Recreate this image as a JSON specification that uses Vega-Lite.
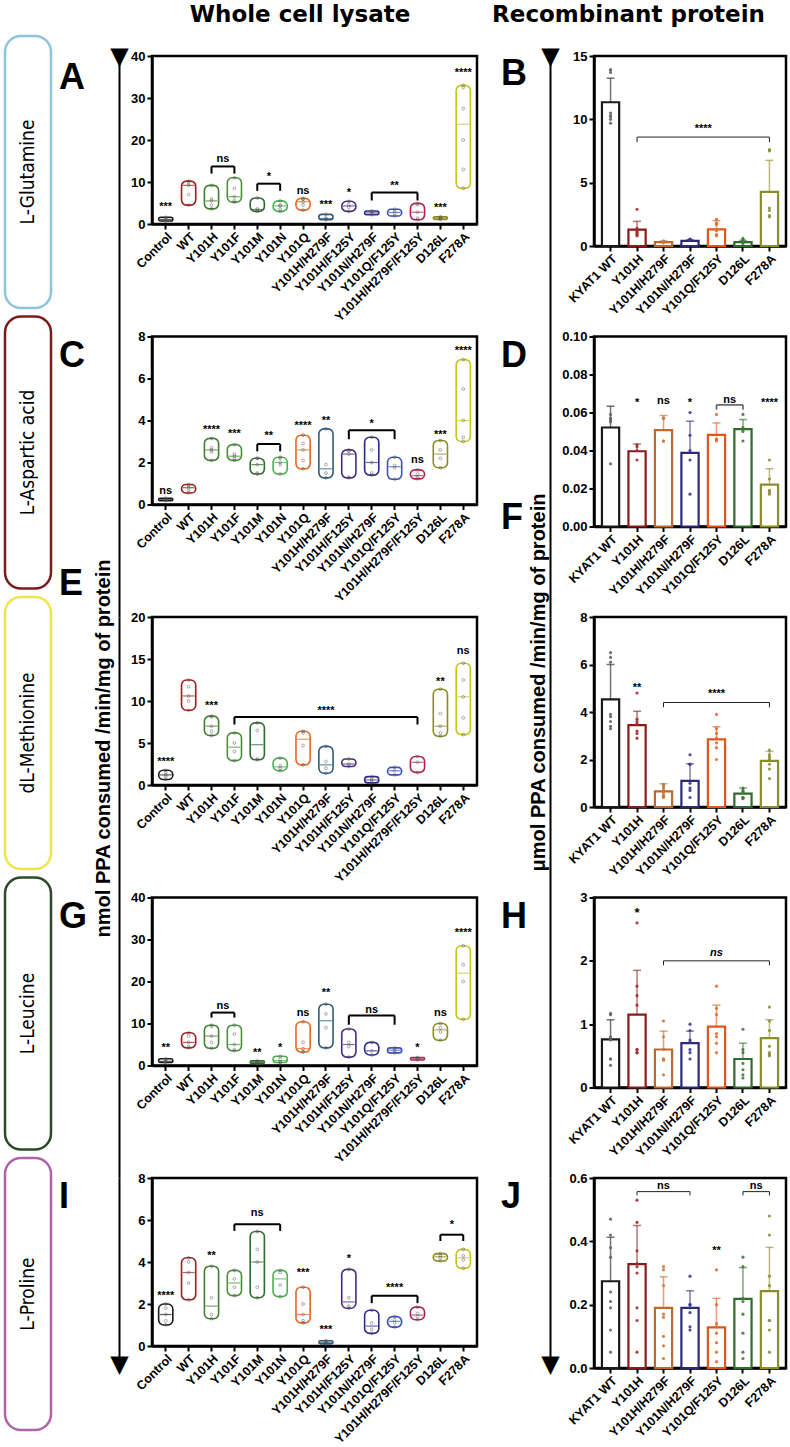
{
"$schema":"https://vega.github.io/schema/vega-lite/v6.json",
"padding":{"left":3,"top":1,"right":2,"bottom":2},
"config":{"font":"Liberation Sans","view":{"stroke":null},
"axis":{"domainColor":"black","domainWidth":2.5,"tickColor":"black","tickWidth":2,"tickSize":5,"labelColor":"black","labelFontWeight":"bold","grid":false,"titleColor":"black"},
"axisX":{"labelAngle":-45,"labelFontSize":12.5,"labelPadding":1},
"axisY":{"labelFontSize":13,"labelPadding":2,"labelOverlap":false},
"axisQuantitative":{"labelOverlap":false},
"title":{"color":"black","fontWeight":"bold"},
"text":{"color":"black"}},
"datasets":{
"a":[{"c":"Control","v":0.7},{"c":"Control","v":1.0},{"c":"Control","v":1.2},{"c":"Control","v":1.6},
{"c":"WT","v":4.5},{"c":"WT","v":7.0},{"c":"WT","v":9.2},{"c":"WT","v":9.8},{"c":"WT","v":10.2},
{"c":"Y101H","v":3.6},{"c":"Y101H","v":4.5},{"c":"Y101H","v":5.5},{"c":"Y101H","v":6.0},{"c":"Y101H","v":9.2},
{"c":"Y101F","v":5.2},{"c":"Y101F","v":5.6},{"c":"Y101F","v":6.5},{"c":"Y101F","v":8.5},{"c":"Y101F","v":11.0},
{"c":"Y101M","v":3.0},{"c":"Y101M","v":3.3},{"c":"Y101M","v":3.6},{"c":"Y101M","v":6.2},
{"c":"Y101N","v":3.0},{"c":"Y101N","v":3.5},{"c":"Y101N","v":4.3},{"c":"Y101N","v":4.5},{"c":"Y101N","v":5.5},
{"c":"Y101Q","v":3.3},{"c":"Y101Q","v":4.5},{"c":"Y101Q","v":5.3},{"c":"Y101Q","v":5.9},{"c":"Y101Q","v":6.1},
{"c":"Y101H/H279F","v":1.0},{"c":"Y101H/H279F","v":1.2},{"c":"Y101H/H279F","v":1.4},{"c":"Y101H/H279F","v":2.3},
{"c":"Y101H/F125Y","v":3.0},{"c":"Y101H/F125Y","v":4.0},{"c":"Y101H/F125Y","v":4.6},{"c":"Y101H/F125Y","v":5.4},
{"c":"Y101N/H279F","v":2.2},{"c":"Y101N/H279F","v":2.5},{"c":"Y101N/H279F","v":2.8},{"c":"Y101N/H279F","v":3.1},
{"c":"Y101Q/F125Y","v":1.9},{"c":"Y101Q/F125Y","v":2.5},{"c":"Y101Q/F125Y","v":3.0},{"c":"Y101Q/F125Y","v":3.5},
{"c":"Y101H/H279F/F125Y","v":1.0},{"c":"Y101H/H279F/F125Y","v":1.4},{"c":"Y101H/H279F/F125Y","v":2.8},{"c":"Y101H/H279F/F125Y","v":4.6},{"c":"Y101H/H279F/F125Y","v":4.9},
{"c":"D126L","v":1.1},{"c":"D126L","v":1.3},{"c":"D126L","v":1.5},{"c":"D126L","v":1.7},
{"c":"F278A","v":8.5},{"c":"F278A","v":13.0},{"c":"F278A","v":20.0},{"c":"F278A","v":27.5},{"c":"F278A","v":32.5},{"c":"F278A","v":33.0}],
"as":[{"c":"Control","y":4.1,"t":"***"},{"c":"Y101Q","y":7.9,"t":"ns"},{"c":"Y101H/H279F","y":4.5,"t":"***"},{"c":"Y101H/F125Y","y":7.3,"t":"*"},{"c":"D126L","y":3.9,"t":"***"},{"c":"F278A","y":36,"t":"****"}],
"ab":[{"c1":"Y101H","c2":"Y101F","y":13.7,"y2":12.0,"t":"ns","ty":15.5,"c":"Y101H","h":1},{"c1":"Y101M","c2":"Y101N","y":9.6,"y2":7.9,"t":"*","ty":11.3,"c":"Y101M","h":1},{"c1":"Y101N/H279F","c2":"Y101H/H279F/F125Y","y":7.5,"y2":5.6,"t":"**","ty":9.1,"c":"Y101Q/F125Y","h":0}],
"c":[{"c":"Control","v":0.18},{"c":"Control","v":0.22},{"c":"Control","v":0.27},{"c":"Control","v":0.3},
{"c":"WT","v":0.55},{"c":"WT","v":0.65},{"c":"WT","v":0.8},{"c":"WT","v":0.9},{"c":"WT","v":0.95},
{"c":"Y101H","v":2.1},{"c":"Y101H","v":2.5},{"c":"Y101H","v":2.6},{"c":"Y101H","v":2.7},{"c":"Y101H","v":3.15},
{"c":"Y101F","v":2.1},{"c":"Y101F","v":2.2},{"c":"Y101F","v":2.3},{"c":"Y101F","v":2.4},{"c":"Y101F","v":2.85},
{"c":"Y101M","v":1.45},{"c":"Y101M","v":1.5},{"c":"Y101M","v":1.9},{"c":"Y101M","v":2.2},{"c":"Y101M","v":2.2},
{"c":"Y101N","v":1.45},{"c":"Y101N","v":1.9},{"c":"Y101N","v":2.0},{"c":"Y101N","v":2.2},{"c":"Y101N","v":2.25},
{"c":"Y101Q","v":1.7},{"c":"Y101Q","v":2.1},{"c":"Y101Q","v":2.6},{"c":"Y101Q","v":2.9},{"c":"Y101Q","v":3.3},
{"c":"Y101H/H279F","v":1.27},{"c":"Y101H/H279F","v":1.5},{"c":"Y101H/H279F","v":1.9},{"c":"Y101H/H279F","v":3.6},
{"c":"Y101H/F125Y","v":1.27},{"c":"Y101H/F125Y","v":1.3},{"c":"Y101H/F125Y","v":2.4},{"c":"Y101H/F125Y","v":2.55},{"c":"Y101H/F125Y","v":2.6},
{"c":"Y101N/H279F","v":1.4},{"c":"Y101N/H279F","v":1.5},{"c":"Y101N/H279F","v":2.0},{"c":"Y101N/H279F","v":2.6},{"c":"Y101N/H279F","v":3.2},
{"c":"Y101Q/F125Y","v":1.2},{"c":"Y101Q/F125Y","v":1.75},{"c":"Y101Q/F125Y","v":1.85},{"c":"Y101Q/F125Y","v":2.25},
{"c":"Y101H/H279F/F125Y","v":1.22},{"c":"Y101H/H279F/F125Y","v":1.3},{"c":"Y101H/H279F/F125Y","v":1.45},{"c":"Y101H/H279F/F125Y","v":1.65},
{"c":"D126L","v":1.75},{"c":"D126L","v":2.2},{"c":"D126L","v":2.6},{"c":"D126L","v":3.05},
{"c":"F278A","v":3.0},{"c":"F278A","v":3.2},{"c":"F278A","v":4.0},{"c":"F278A","v":5.5},{"c":"F278A","v":6.9}],
"cs":[{"c":"Control","y":0.66,"t":"ns"},{"c":"Y101H","y":3.54,"t":"****"},{"c":"Y101F","y":3.35,"t":"***"},{"c":"Y101Q","y":3.73,"t":"****"},{"c":"Y101H/H279F","y":3.98,"t":"**"},{"c":"Y101H/H279F/F125Y","y":2.12,"t":"ns"},{"c":"D126L","y":3.32,"t":"***"},{"c":"F278A","y":7.3,"t":"****"}],
"cb":[{"c1":"Y101M","c2":"Y101N","y":2.88,"y2":2.53,"t":"**","ty":3.25,"c":"Y101M","h":1},{"c1":"Y101H/F125Y","c2":"Y101Q/F125Y","y":3.54,"y2":3.11,"t":"*","ty":3.82,"c":"Y101N/H279F","h":0}],
"e":[{"c":"Control","v":0.65},{"c":"Control","v":1.0},{"c":"Control","v":1.2},{"c":"Control","v":1.5},{"c":"Control","v":1.75},
{"c":"WT","v":8.9},{"c":"WT","v":10.0},{"c":"WT","v":10.6},{"c":"WT","v":11.7},{"c":"WT","v":12.5},
{"c":"Y101H","v":5.9},{"c":"Y101H","v":6.4},{"c":"Y101H","v":7.0},{"c":"Y101H","v":8.1},{"c":"Y101H","v":8.2},
{"c":"Y101F","v":2.9},{"c":"Y101F","v":4.0},{"c":"Y101F","v":5.0},{"c":"Y101F","v":6.2},
{"c":"Y101M","v":3.0},{"c":"Y101M","v":3.1},{"c":"Y101M","v":6.5},{"c":"Y101M","v":7.4},
{"c":"Y101N","v":1.7},{"c":"Y101N","v":2.0},{"c":"Y101N","v":2.3},{"c":"Y101N","v":3.2},
{"c":"Y101Q","v":2.4},{"c":"Y101Q","v":4.7},{"c":"Y101Q","v":6.2},{"c":"Y101Q","v":6.4},
{"c":"Y101H/H279F","v":1.4},{"c":"Y101H/H279F","v":2.0},{"c":"Y101H/H279F","v":2.8},{"c":"Y101H/H279F","v":4.6},
{"c":"Y101H/F125Y","v":2.2},{"c":"Y101H/F125Y","v":2.5},{"c":"Y101H/F125Y","v":3.1},
{"c":"Y101N/H279F","v":0.25},{"c":"Y101N/H279F","v":0.5},{"c":"Y101N/H279F","v":0.7},{"c":"Y101N/H279F","v":1.0},
{"c":"Y101Q/F125Y","v":1.2},{"c":"Y101Q/F125Y","v":1.7},{"c":"Y101Q/F125Y","v":2.1},
{"c":"Y101H/H279F/F125Y","v":1.5},{"c":"Y101H/H279F/F125Y","v":2.7},{"c":"Y101H/H279F/F125Y","v":3.4},
{"c":"D126L","v":5.8},{"c":"D126L","v":6.2},{"c":"D126L","v":7.0},{"c":"D126L","v":8.5},{"c":"D126L","v":11.4},
{"c":"F278A","v":6.0},{"c":"F278A","v":8.0},{"c":"F278A","v":10.5},{"c":"F278A","v":12.5},{"c":"F278A","v":14.5}],
"es":[{"c":"Control","y":2.7,"t":"****"},{"c":"Y101H","y":9.4,"t":"***"},{"c":"D126L","y":12.3,"t":"**"},{"c":"F278A","y":16.0,"t":"ns"}],
"eb":[{"c1":"Y101F","c2":"Y101H/H279F/F125Y","y":8.1,"y2":7.2,"t":"****","ty":8.8,"c":"Y101H/H279F","h":0}],
"g":[{"c":"Control","v":0.7},{"c":"Control","v":0.9},{"c":"Control","v":1.0},{"c":"Control","v":1.2},{"c":"Control","v":1.6},
{"c":"WT","v":4.2},{"c":"WT","v":4.5},{"c":"WT","v":5.5},{"c":"WT","v":7.0},{"c":"WT","v":7.8},
{"c":"Y101H","v":4.1},{"c":"Y101H","v":5.5},{"c":"Y101H","v":7.0},{"c":"Y101H","v":9.3},{"c":"Y101H","v":9.6},
{"c":"Y101F","v":3.5},{"c":"Y101F","v":3.8},{"c":"Y101F","v":5.0},{"c":"Y101F","v":7.5},{"c":"Y101F","v":9.6},
{"c":"Y101M","v":0.5},{"c":"Y101M","v":0.6},{"c":"Y101M","v":0.8},{"c":"Y101M","v":1.1},
{"c":"Y101N","v":0.7},{"c":"Y101N","v":0.8},{"c":"Y101N","v":1.5},{"c":"Y101N","v":2.2},
{"c":"Y101Q","v":3.2},{"c":"Y101Q","v":3.3},{"c":"Y101Q","v":4.0},{"c":"Y101Q","v":5.5},{"c":"Y101Q","v":10.4},
{"c":"Y101H/H279F","v":4.2},{"c":"Y101H/H279F","v":9.0},{"c":"Y101H/H279F","v":12.3},{"c":"Y101H/H279F","v":14.6},
{"c":"Y101H/F125Y","v":2.0},{"c":"Y101H/F125Y","v":4.5},{"c":"Y101H/F125Y","v":5.5},{"c":"Y101H/F125Y","v":8.7},
{"c":"Y101N/H279F","v":2.5},{"c":"Y101N/H279F","v":3.5},{"c":"Y101N/H279F","v":5.5},
{"c":"Y101Q/F125Y","v":3.0},{"c":"Y101Q/F125Y","v":3.5},{"c":"Y101Q/F125Y","v":3.8},{"c":"Y101Q/F125Y","v":4.2},
{"c":"Y101H/H279F/F125Y","v":1.3},{"c":"Y101H/H279F/F125Y","v":1.5},{"c":"Y101H/H279F/F125Y","v":1.7},{"c":"Y101H/H279F/F125Y","v":1.9},
{"c":"D126L","v":6.0},{"c":"D126L","v":8.0},{"c":"D126L","v":9.0},{"c":"D126L","v":10.0},
{"c":"F278A","v":11.0},{"c":"F278A","v":20.0},{"c":"F278A","v":24.0},{"c":"F278A","v":28.5}],
"gs":[{"c":"Control","y":4.1,"t":"**"},{"c":"Y101M","y":2.9,"t":"**"},{"c":"Y101N","y":4.1,"t":"*"},{"c":"Y101Q","y":12.5,"t":"ns"},{"c":"Y101H/H279F","y":17.2,"t":"**"},{"c":"Y101H/H279F/F125Y","y":4.1,"t":"*"},{"c":"D126L","y":12.6,"t":"ns"},{"c":"F278A","y":31.5,"t":"****"}],
"gb":[{"c1":"Y101H","c2":"Y101F","y":12.6,"y2":11.4,"t":"ns","ty":14.2,"c":"Y101H","h":1},{"c1":"Y101H/F125Y","c2":"Y101Q/F125Y","y":11.9,"y2":9.7,"t":"ns","ty":13.3,"c":"Y101N/H279F","h":0}],
"i":[{"c":"Control","v":1.0},{"c":"Control","v":1.2},{"c":"Control","v":1.5},{"c":"Control","v":1.8},{"c":"Control","v":2.0},
{"c":"WT","v":2.2},{"c":"WT","v":3.0},{"c":"WT","v":3.5},{"c":"WT","v":4.0},{"c":"WT","v":4.2},
{"c":"Y101H","v":1.3},{"c":"Y101H","v":1.5},{"c":"Y101H","v":2.3},{"c":"Y101H","v":3.8},
{"c":"Y101F","v":2.4},{"c":"Y101F","v":2.8},{"c":"Y101F","v":3.2},{"c":"Y101F","v":3.6},
{"c":"Y101M","v":2.3},{"c":"Y101M","v":2.8},{"c":"Y101M","v":4.0},{"c":"Y101M","v":4.6},{"c":"Y101M","v":5.45},
{"c":"Y101N","v":2.35},{"c":"Y101N","v":2.9},{"c":"Y101N","v":3.5},{"c":"Y101N","v":3.6},
{"c":"Y101Q","v":1.1},{"c":"Y101Q","v":1.2},{"c":"Y101Q","v":1.5},{"c":"Y101Q","v":2.0},{"c":"Y101Q","v":2.8},
{"c":"Y101H/H279F","v":0.1},{"c":"Y101H/H279F","v":0.15},{"c":"Y101H/H279F","v":0.2},{"c":"Y101H/H279F","v":0.25},
{"c":"Y101H/F125Y","v":1.8},{"c":"Y101H/F125Y","v":1.9},{"c":"Y101H/F125Y","v":2.3},{"c":"Y101H/F125Y","v":3.65},
{"c":"Y101N/H279F","v":0.6},{"c":"Y101N/H279F","v":0.8},{"c":"Y101N/H279F","v":1.1},{"c":"Y101N/H279F","v":1.7},
{"c":"Y101Q/F125Y","v":0.9},{"c":"Y101Q/F125Y","v":1.1},{"c":"Y101Q/F125Y","v":1.25},{"c":"Y101Q/F125Y","v":1.4},
{"c":"Y101H/H279F/F125Y","v":1.25},{"c":"Y101H/H279F/F125Y","v":1.4},{"c":"Y101H/H279F/F125Y","v":1.55},{"c":"Y101H/H279F/F125Y","v":1.85},
{"c":"D126L","v":4.05},{"c":"D126L","v":4.2},{"c":"D126L","v":4.3},{"c":"D126L","v":4.4},
{"c":"F278A","v":3.7},{"c":"F278A","v":4.1},{"c":"F278A","v":4.3},{"c":"F278A","v":4.6}],
"is":[{"c":"Control","y":2.4,"t":"****"},{"c":"Y101H","y":4.3,"t":"**"},{"c":"Y101Q","y":3.46,"t":"***"},{"c":"Y101H/H279F","y":0.77,"t":"***"},{"c":"Y101H/F125Y","y":4.14,"t":"*"}],
"ib":[{"c1":"Y101F","c2":"Y101N","y":5.8,"y2":5.48,"t":"ns","ty":6.35,"c":"Y101M","h":0},{"c1":"Y101N/H279F","c2":"Y101H/H279F/F125Y","y":2.39,"y2":2.04,"t":"****","ty":2.75,"c":"Y101Q/F125Y","h":0},{"c1":"D126L","c2":"F278A","y":5.3,"y2":5.0,"t":"*","ty":5.75,"c":"D126L","h":1}],
"b":[{"c":"KYAT1 WT","v":13.9},{"c":"KYAT1 WT","v":13.7},{"c":"KYAT1 WT","v":13.9},{"c":"KYAT1 WT","v":10.5},{"c":"KYAT1 WT","v":10.3},{"c":"KYAT1 WT","v":10.2},{"c":"KYAT1 WT","v":10.0},{"c":"KYAT1 WT","v":9.7},
{"c":"Y101H","v":2.9},{"c":"Y101H","v":1.4},{"c":"Y101H","v":1.2},{"c":"Y101H","v":1.0},{"c":"Y101H","v":0.9},{"c":"Y101H","v":0.8},{"c":"Y101H","v":1.1},
{"c":"Y101H/H279F","v":0.4},{"c":"Y101H/H279F","v":0.35},{"c":"Y101H/H279F","v":0.3},{"c":"Y101H/H279F","v":0.25},{"c":"Y101H/H279F","v":0.3},{"c":"Y101H/H279F","v":0.35},
{"c":"Y101N/H279F","v":0.55},{"c":"Y101N/H279F","v":0.5},{"c":"Y101N/H279F","v":0.5},{"c":"Y101N/H279F","v":0.45},{"c":"Y101N/H279F","v":0.5},
{"c":"Y101Q/F125Y","v":2.1},{"c":"Y101Q/F125Y","v":1.8},{"c":"Y101Q/F125Y","v":1.7},{"c":"Y101Q/F125Y","v":1.3},{"c":"Y101Q/F125Y","v":1.2},{"c":"Y101Q/F125Y","v":0.9},{"c":"Y101Q/F125Y","v":0.8},
{"c":"D126L","v":0.6},{"c":"D126L","v":0.5},{"c":"D126L","v":0.4},{"c":"D126L","v":0.3},{"c":"D126L","v":0.2},
{"c":"F278A","v":7.6},{"c":"F278A","v":7.5},{"c":"F278A","v":7.6},{"c":"F278A","v":3.0},{"c":"F278A","v":2.8},{"c":"F278A","v":2.4},{"c":"F278A","v":2.3}],
"bm":[{"c":"KYAT1 WT","m":11.35,"hi":13.25},{"c":"Y101H","m":1.3,"hi":1.95},{"c":"Y101H/H279F","m":0.3,"hi":0.4},{"c":"Y101N/H279F","m":0.4,"hi":0.5},{"c":"Y101Q/F125Y","m":1.32,"hi":2.0},{"c":"D126L","m":0.3,"hi":0.45},{"c":"F278A","m":4.27,"hi":6.76}],
"bb":[{"c1":"Y101H","c2":"F278A","y":8.6,"y2":8.2,"t":"****","ty":9.2,"c":"Y101N/H279F","h":1}],
"d":[{"c":"KYAT1 WT","v":0.059},{"c":"KYAT1 WT","v":0.057},{"c":"KYAT1 WT","v":0.056},{"c":"KYAT1 WT","v":0.055},{"c":"KYAT1 WT","v":0.033},
{"c":"Y101H","v":0.043},{"c":"Y101H","v":0.042},{"c":"Y101H","v":0.04},{"c":"Y101H","v":0.035},
{"c":"Y101H/H279F","v":0.057},{"c":"Y101H/H279F","v":0.057},{"c":"Y101H/H279F","v":0.045},{"c":"Y101H/H279F","v":0.045},
{"c":"Y101N/H279F","v":0.06},{"c":"Y101N/H279F","v":0.048},{"c":"Y101N/H279F","v":0.04},{"c":"Y101N/H279F","v":0.035},{"c":"Y101N/H279F","v":0.017},
{"c":"Y101Q/F125Y","v":0.059},{"c":"Y101Q/F125Y","v":0.046},{"c":"Y101Q/F125Y","v":0.046},{"c":"Y101Q/F125Y","v":0.045},
{"c":"D126L","v":0.059},{"c":"D126L","v":0.052},{"c":"D126L","v":0.051},{"c":"D126L","v":0.05},{"c":"D126L","v":0.045},
{"c":"F278A","v":0.035},{"c":"F278A","v":0.025},{"c":"F278A","v":0.019},{"c":"F278A","v":0.018},{"c":"F278A","v":0.017}],
"dm":[{"c":"KYAT1 WT","m":0.0521,"hi":0.0633},{"c":"Y101H","m":0.0396,"hi":0.0434},{"c":"Y101H/H279F","m":0.0507,"hi":0.0584},{"c":"Y101N/H279F","m":0.0387,"hi":0.0554},{"c":"Y101Q/F125Y","m":0.0482,"hi":0.0545},{"c":"D126L","m":0.0512,"hi":0.0563},{"c":"F278A","m":0.022,"hi":0.0304}],
"ds":[{"c":"Y101H","y":0.065,"t":"*"},{"c":"Y101H/H279F","y":0.066,"t":"ns"},{"c":"Y101N/H279F","y":0.065,"t":"*"},{"c":"F278A","y":0.065,"t":"****"}],
"db":[{"c1":"Y101Q/F125Y","c2":"D126L","y":0.064,"y2":0.0615,"t":"ns","ty":0.0668,"c":"Y101Q/F125Y","h":1}],
"f":[{"c":"KYAT1 WT","v":6.5},{"c":"KYAT1 WT","v":6.3},{"c":"KYAT1 WT","v":6.1},{"c":"KYAT1 WT","v":3.9},{"c":"KYAT1 WT","v":3.8},{"c":"KYAT1 WT","v":3.6},{"c":"KYAT1 WT","v":3.4},{"c":"KYAT1 WT","v":3.3},
{"c":"Y101H","v":4.8},{"c":"Y101H","v":3.7},{"c":"Y101H","v":3.6},{"c":"Y101H","v":3.5},{"c":"Y101H","v":3.2},{"c":"Y101H","v":3.1},{"c":"Y101H","v":2.9},
{"c":"Y101H/H279F","v":0.95},{"c":"Y101H/H279F","v":0.9},{"c":"Y101H/H279F","v":0.8},{"c":"Y101H/H279F","v":0.7},{"c":"Y101H/H279F","v":0.6},{"c":"Y101H/H279F","v":0.5},{"c":"Y101H/H279F","v":0.45},{"c":"Y101H/H279F","v":0.4},
{"c":"Y101N/H279F","v":2.2},{"c":"Y101N/H279F","v":1.8},{"c":"Y101N/H279F","v":1.8},{"c":"Y101N/H279F","v":1.0},{"c":"Y101N/H279F","v":0.8},{"c":"Y101N/H279F","v":0.7},{"c":"Y101N/H279F","v":0.4},
{"c":"Y101Q/F125Y","v":3.9},{"c":"Y101Q/F125Y","v":3.3},{"c":"Y101Q/F125Y","v":3.1},{"c":"Y101Q/F125Y","v":2.9},{"c":"Y101Q/F125Y","v":2.7},{"c":"Y101Q/F125Y","v":2.5},{"c":"Y101Q/F125Y","v":2.0},
{"c":"D126L","v":0.8},{"c":"D126L","v":0.7},{"c":"D126L","v":0.65},{"c":"D126L","v":0.6},{"c":"D126L","v":0.4},{"c":"D126L","v":0.4},{"c":"D126L","v":0.35},
{"c":"F278A","v":2.4},{"c":"F278A","v":2.2},{"c":"F278A","v":2.1},{"c":"F278A","v":2.0},{"c":"F278A","v":1.8},{"c":"F278A","v":1.6},{"c":"F278A","v":1.2}],
"fm":[{"c":"KYAT1 WT","m":4.53,"hi":6.0},{"c":"Y101H","m":3.45,"hi":4.03},{"c":"Y101H/H279F","m":0.66,"hi":0.98},{"c":"Y101N/H279F","m":1.1,"hi":1.82},{"c":"Y101Q/F125Y","m":2.85,"hi":3.38},{"c":"D126L","m":0.56,"hi":0.8},{"c":"F278A","m":1.94,"hi":2.34}],
"fs":[{"c":"Y101H","y":4.99,"t":"**"}],
"fb":[{"c1":"Y101H/H279F","c2":"F278A","y":4.4,"y2":4.2,"t":"****","ty":4.75,"c":"Y101Q/F125Y","h":0}],
"h":[{"c":"KYAT1 WT","v":1.17},{"c":"KYAT1 WT","v":1.15},{"c":"KYAT1 WT","v":0.8},{"c":"KYAT1 WT","v":0.78},{"c":"KYAT1 WT","v":0.75},{"c":"KYAT1 WT","v":0.45},{"c":"KYAT1 WT","v":0.45},{"c":"KYAT1 WT","v":0.35},
{"c":"Y101H","v":2.6},{"c":"Y101H","v":1.6},{"c":"Y101H","v":1.45},{"c":"Y101H","v":1.3},{"c":"Y101H","v":0.6},{"c":"Y101H","v":0.55},{"c":"Y101H","v":0.55},{"c":"Y101H","v":0.6},
{"c":"Y101H/H279F","v":1.05},{"c":"Y101H/H279F","v":0.8},{"c":"Y101H/H279F","v":0.6},{"c":"Y101H/H279F","v":0.45},{"c":"Y101H/H279F","v":0.43},{"c":"Y101H/H279F","v":0.45},{"c":"Y101H/H279F","v":0.2},
{"c":"Y101N/H279F","v":1.0},{"c":"Y101N/H279F","v":0.9},{"c":"Y101N/H279F","v":0.75},{"c":"Y101N/H279F","v":0.72},{"c":"Y101N/H279F","v":0.6},{"c":"Y101N/H279F","v":0.55},{"c":"Y101N/H279F","v":0.45},
{"c":"Y101Q/F125Y","v":1.6},{"c":"Y101Q/F125Y","v":1.25},{"c":"Y101Q/F125Y","v":1.15},{"c":"Y101Q/F125Y","v":0.85},{"c":"Y101Q/F125Y","v":0.8},{"c":"Y101Q/F125Y","v":0.7},{"c":"Y101Q/F125Y","v":0.55},
{"c":"D126L","v":0.92},{"c":"D126L","v":0.6},{"c":"D126L","v":0.55},{"c":"D126L","v":0.38},{"c":"D126L","v":0.28},{"c":"D126L","v":0.2},{"c":"D126L","v":0.15},
{"c":"F278A","v":1.27},{"c":"F278A","v":1.05},{"c":"F278A","v":0.9},{"c":"F278A","v":0.65},{"c":"F278A","v":0.55},{"c":"F278A","v":0.52},{"c":"F278A","v":0.5}],
"hm":[{"c":"KYAT1 WT","m":0.76,"hi":1.07},{"c":"Y101H","m":1.15,"hi":1.85},{"c":"Y101H/H279F","m":0.6,"hi":0.89},{"c":"Y101N/H279F","m":0.7,"hi":0.89},{"c":"Y101Q/F125Y","m":0.96,"hi":1.3},{"c":"D126L","m":0.45,"hi":0.7},{"c":"F278A","m":0.78,"hi":1.07}],
"hs":[{"c":"Y101H","y":2.76,"t":"*"}],
"hb":[{"c1":"Y101H/H279F","c2":"F278A","y":2.0,"y2":1.93,"t":"ns","ty":2.12,"c":"Y101Q/F125Y","h":0}],
"j":[{"c":"KYAT1 WT","v":0.47},{"c":"KYAT1 WT","v":0.42},{"c":"KYAT1 WT","v":0.38},{"c":"KYAT1 WT","v":0.35},{"c":"KYAT1 WT","v":0.24},{"c":"KYAT1 WT","v":0.21},{"c":"KYAT1 WT","v":0.19},{"c":"KYAT1 WT","v":0.12},{"c":"KYAT1 WT","v":0.05},
{"c":"Y101H","v":0.53},{"c":"Y101H","v":0.46},{"c":"Y101H","v":0.37},{"c":"Y101H","v":0.33},{"c":"Y101H","v":0.32},{"c":"Y101H","v":0.3},{"c":"Y101H","v":0.19},{"c":"Y101H","v":0.15},{"c":"Y101H","v":0.05},
{"c":"Y101H/H279F","v":0.32},{"c":"Y101H/H279F","v":0.31},{"c":"Y101H/H279F","v":0.26},{"c":"Y101H/H279F","v":0.17},{"c":"Y101H/H279F","v":0.16},{"c":"Y101H/H279F","v":0.1},{"c":"Y101H/H279F","v":0.07},{"c":"Y101H/H279F","v":0.03},
{"c":"Y101N/H279F","v":0.29},{"c":"Y101N/H279F","v":0.2},{"c":"Y101N/H279F","v":0.2},{"c":"Y101N/H279F","v":0.19},{"c":"Y101N/H279F","v":0.175},{"c":"Y101N/H279F","v":0.13},{"c":"Y101N/H279F","v":0.12},
{"c":"Y101Q/F125Y","v":0.31},{"c":"Y101Q/F125Y","v":0.2},{"c":"Y101Q/F125Y","v":0.14},{"c":"Y101Q/F125Y","v":0.13},{"c":"Y101Q/F125Y","v":0.11},{"c":"Y101Q/F125Y","v":0.08},{"c":"Y101Q/F125Y","v":0.05},{"c":"Y101Q/F125Y","v":0.02},
{"c":"D126L","v":0.35},{"c":"D126L","v":0.32},{"c":"D126L","v":0.22},{"c":"D126L","v":0.21},{"c":"D126L","v":0.17},{"c":"D126L","v":0.11},{"c":"D126L","v":0.05},{"c":"D126L","v":0.03},
{"c":"F278A","v":0.48},{"c":"F278A","v":0.42},{"c":"F278A","v":0.29},{"c":"F278A","v":0.26},{"c":"F278A","v":0.15},{"c":"F278A","v":0.15},{"c":"F278A","v":0.12},{"c":"F278A","v":0.05}],
"jm":[{"c":"KYAT1 WT","m":0.274,"hi":0.413},{"c":"Y101H","m":0.328,"hi":0.45},{"c":"Y101H/H279F","m":0.19,"hi":0.288},{"c":"Y101N/H279F","m":0.19,"hi":0.244},{"c":"Y101Q/F125Y","m":0.128,"hi":0.22},{"c":"D126L","m":0.218,"hi":0.317},{"c":"F278A","m":0.243,"hi":0.381}],
"js":[{"c":"Y101Q/F125Y","y":0.37,"t":"**"}],
"jb":[{"c1":"Y101H","c2":"Y101N/H279F","y":0.557,"y2":0.545,"t":"ns","ty":0.575,"c":"Y101H/H279F","h":0},{"c1":"D126L","c2":"F278A","y":0.557,"y2":0.545,"t":"ns","ty":0.575,"c":"D126L","h":1}]
},
"bounds":"flush","align":"each","columns":3,"spacing":{"row":90.5,"column":117},
"resolve":{"scale":{"stroke":"independent","color":"independent","fill":"independent"}},
"concat":[
{"width":30,"height":190,"data":{"values":[{"n":"L-Glutamine"}]},
 "encoding":{"x":{"field":"n","type":"nominal","axis":null,"scale":{"range":[0,46],"paddingInner":0,"paddingOuter":0}},"y":{"field":"n","type":"nominal","axis":null,"scale":{"range":[-20,252],"paddingInner":0,"paddingOuter":0}}},
 "layer":[{"mark":{"type":"rect","fill":"white","stroke":"#8fc3df","strokeWidth":2.5,"cornerRadius":16}},
  {"mark":{"type":"text","angle":270,"fontSize":19,"font":"DejaVu Sans Condensed, Liberation Sans Narrow, Liberation Sans"},"encoding":{"text":{"field":"n"}}}]},
{"width":325,"height":168,"view":{"stroke":"black","strokeWidth":2.5},
 "title":{"text":"A","anchor":"start","frame":"group","dx":-93,"offset":-94,"fontSize":36},
 "resolve":{"scale":{"x":"independent","y":"independent"}},
 "layer":[
  {"layer":[
   {"data":{"name":"a"},"transform":[{"aggregate":[{"op":"min","field":"v","as":"lo"},{"op":"max","field":"v","as":"hi"},{"op":"median","field":"v","as":"md"}],"groupby":["c"]}],
    "layer":[
     {"mark":{"type":"bar","fill":"white","strokeWidth":1.6,"cornerRadius":5,"width":{"band":0.62}},
      "encoding":{"x":{"field":"c","type":"nominal","title":null,"scale":{"domain":["Control","WT","Y101H","Y101F","Y101M","Y101N","Y101Q","Y101H/H279F","Y101H/F125Y","Y101N/H279F","Y101Q/F125Y","Y101H/H279F/F125Y","D126L","F278A"],"paddingInner":0,"paddingOuter":0.1}},
       "y":{"field":"lo","type":"quantitative","title":null,"scale":{"domain":[0,40],"nice":false},"axis":{"values":[0,10,20,30,40]}},
       "y2":{"field":"hi"},
       "stroke":{"field":"c","type":"nominal","legend":null,"scale":{"domain":["Control","WT","Y101H","Y101F","Y101M","Y101N","Y101Q","Y101H/H279F","Y101H/F125Y","Y101N/H279F","Y101Q/F125Y","Y101H/H279F/F125Y","D126L","F278A"],"range":["#1a1a1a","#9e1c1c","#3f7f2f","#4a8f3a","#2e6b2e","#4caf50","#e8661f","#2f5b7c","#4b2a7b","#2e2a8a","#3f51b5","#b0234f","#8c8c1e","#c5c51c"]}}}},
     {"mark":{"type":"tick","thickness":1.2,"size":12},
      "encoding":{"x":{"field":"c","type":"nominal"},"y":{"field":"md","type":"quantitative"},
       "color":{"field":"c","type":"nominal","legend":null,"scale":{"domain":["Control","WT","Y101H","Y101F","Y101M","Y101N","Y101Q","Y101H/H279F","Y101H/F125Y","Y101N/H279F","Y101Q/F125Y","Y101H/H279F/F125Y","D126L","F278A"],"range":["#1a1a1a","#9e1c1c","#3f7f2f","#4a8f3a","#2e6b2e","#4caf50","#e8661f","#2f5b7c","#4b2a7b","#2e2a8a","#3f51b5","#b0234f","#8c8c1e","#c5c51c"]}}}}]},
   {"data":{"name":"a"},"mark":{"type":"point","size":8,"strokeWidth":0.7,"color":"#555555"},"encoding":{"x":{"field":"c","type":"nominal"},"y":{"field":"v","type":"quantitative"}}},
   {"data":{"name":"as"},"mark":{"type":"text","fontSize":11,"fontWeight":"bold"},"encoding":{"x":{"field":"c","type":"nominal"},"y":{"field":"y","type":"quantitative"},"text":{"field":"t"}}},
   {"data":{"name":"ab"},"mark":{"type":"rule","strokeWidth":2,"color":"black"},"encoding":{"x":{"field":"c1","type":"nominal"},"x2":{"field":"c2"},"y":{"field":"y","type":"quantitative"}}},
   {"data":{"name":"ab"},"mark":{"type":"rule","strokeWidth":2,"color":"black"},"encoding":{"x":{"field":"c1","type":"nominal"},"y":{"field":"y","type":"quantitative"},"y2":{"field":"y2"}}},
   {"data":{"name":"ab"},"mark":{"type":"rule","strokeWidth":2,"color":"black"},"encoding":{"x":{"field":"c2","type":"nominal"},"y":{"field":"y","type":"quantitative"},"y2":{"field":"y2"}}},
   {"data":{"name":"ab"},"transform":[{"filter":"datum.h==0"}],"mark":{"type":"text","fontSize":11,"fontWeight":"bold"},"encoding":{"x":{"field":"c","type":"nominal"},"y":{"field":"ty","type":"quantitative"},"text":{"field":"t"}}},
   {"data":{"name":"ab"},"transform":[{"filter":"datum.h==1"}],"mark":{"type":"text","fontSize":11,"fontWeight":"bold","dx":11.5},"encoding":{"x":{"field":"c","type":"nominal"},"y":{"field":"ty","type":"quantitative"},"text":{"field":"t"}}}]},
  {"data":{"values":[{"p":0},{"p":1}]},"mark":{"type":"point","opacity":0},
   "encoding":{"y":{"field":"p","type":"quantitative","scale":{"domain":[0,1],"range":[280.5,0]},"axis":{"orient":"left","offset":33,"labels":false,"ticks":false,"domainWidth":2,"title":"▼","titleFont":"DejaVu Sans","titleFontSize":24,"titleFontWeight":"normal","titleAngle":0,"titleX":0,"titleY":0,"titleAlign":"center","titleBaseline":"middle"}},
    "x":{"field":"p","type":"quantitative","axis":{"orient":"top","domain":false,"ticks":false,"labels":false,"title":"Whole cell lysate","titleFont":"DejaVu Sans","titleFontSize":23,"titleFontWeight":"bold","titleX":147.5,"titleY":-35,"titleAlign":"center","titleBaseline":"alphabetic","titleAngle":0}}}}]},
{"width":192,"height":190,"view":{"stroke":"black","strokeWidth":2.5},
 "title":{"text":"B","anchor":"start","frame":"group","dx":-93,"offset":-90,"fontSize":36},
 "resolve":{"scale":{"x":"independent","y":"independent"}},
 "layer":[
  {"layer":[
   {"data":{"name":"bm"},"mark":{"type":"rule","strokeWidth":1.5,"opacity":0.6},"encoding":{"x":{"field":"c","type":"nominal","title":null,"scale":{"domain":["KYAT1 WT","Y101H","Y101H/H279F","Y101N/H279F","Y101Q/F125Y","D126L","F278A"],"paddingInner":0.35,"paddingOuter":0.3}},"y":{"field":"m","type":"quantitative","title":null,"scale":{"domain":[0,15],"nice":false},"axis":{"values":[0,5,10,15]}},"y2":{"field":"hi"},"stroke":{"field":"c","type":"nominal","legend":null,"scale":{"domain":["KYAT1 WT","Y101H","Y101H/H279F","Y101N/H279F","Y101Q/F125Y","D126L","F278A"],"range":["#1a1a1a","#8b1a1a","#c0682a","#2b2a7a","#e0561b","#2f6b2a","#8c8c2a"]}}}},
   {"data":{"name":"bm"},"mark":{"type":"tick","thickness":1.5,"size":8,"opacity":0.6},"encoding":{"x":{"field":"c","type":"nominal"},"y":{"field":"hi","type":"quantitative"},"color":{"field":"c","type":"nominal","legend":null,"scale":{"domain":["KYAT1 WT","Y101H","Y101H/H279F","Y101N/H279F","Y101Q/F125Y","D126L","F278A"],"range":["#1a1a1a","#8b1a1a","#c0682a","#2b2a7a","#e0561b","#2f6b2a","#8c8c2a"]}}}},
   {"data":{"name":"bm"},"mark":{"type":"bar","fill":"white","strokeWidth":2.2},"encoding":{"x":{"field":"c","type":"nominal"},"y":{"field":"m","type":"quantitative"},"stroke":{"field":"c","type":"nominal","legend":null}}},
   {"data":{"name":"b"},"mark":{"type":"point","filled":true,"size":10,"opacity":0.9},"encoding":{"x":{"field":"c","type":"nominal"},"y":{"field":"v","type":"quantitative"},"fill":{"field":"c","type":"nominal","legend":null,"scale":{"domain":["KYAT1 WT","Y101H","Y101H/H279F","Y101N/H279F","Y101Q/F125Y","D126L","F278A"],"range":["#666666","#a03030","#c8783a","#3b3a8a","#e06a30","#3f7b3a","#8c8c3a"]}}}},
   {"data":{"name":"bb"},"mark":{"type":"rule","strokeWidth":1,"color":"#222222"},"encoding":{"x":{"field":"c1","type":"nominal"},"x2":{"field":"c2"},"y":{"field":"y","type":"quantitative"}}},
   {"data":{"name":"bb"},"mark":{"type":"rule","strokeWidth":1,"color":"#222222"},"encoding":{"x":{"field":"c1","type":"nominal"},"y":{"field":"y","type":"quantitative"},"y2":{"field":"y2"}}},
   {"data":{"name":"bb"},"mark":{"type":"rule","strokeWidth":1,"color":"#222222"},"encoding":{"x":{"field":"c2","type":"nominal"},"y":{"field":"y","type":"quantitative"},"y2":{"field":"y2"}}},
   {"data":{"name":"bb"},"mark":{"type":"text","fontSize":11,"fontWeight":"bold","dx":13.25},"encoding":{"x":{"field":"c","type":"nominal"},"y":{"field":"ty","type":"quantitative"},"text":{"field":"t"}}}]},
  {"data":{"values":[{"p":0},{"p":1}]},"mark":{"type":"point","opacity":0},
   "encoding":{"y":{"field":"p","type":"quantitative","scale":{"domain":[0,1],"range":[280.5,0]},"axis":{"orient":"left","offset":44,"labels":false,"ticks":false,"domainWidth":2,"title":"▼","titleFont":"DejaVu Sans","titleFontSize":24,"titleFontWeight":"normal","titleAngle":0,"titleX":0,"titleY":0,"titleAlign":"center","titleBaseline":"middle"}},
    "x":{"field":"p","type":"quantitative","axis":{"orient":"top","domain":false,"ticks":false,"labels":false,"title":"Recombinant protein","titleFont":"DejaVu Sans","titleFontSize":23,"titleFontWeight":"bold","titleX":34,"titleY":-35,"titleAlign":"center","titleBaseline":"alphabetic","titleAngle":0}}}}]},
{"width":30,"height":190,"data":{"values":[{"n":"L-Aspartic acid"}]},
 "encoding":{"x":{"field":"n","type":"nominal","axis":null,"scale":{"range":[0,46],"paddingInner":0,"paddingOuter":0}},"y":{"field":"n","type":"nominal","axis":null,"scale":{"range":[-20,252],"paddingInner":0,"paddingOuter":0}}},
 "layer":[{"mark":{"type":"rect","fill":"white","stroke":"#7a1c1c","strokeWidth":2.5,"cornerRadius":16}},
  {"mark":{"type":"text","angle":270,"fontSize":19,"font":"DejaVu Sans Condensed, Liberation Sans Narrow, Liberation Sans"},"encoding":{"text":{"field":"n"}}}]},
{"width":325,"height":168,"view":{"stroke":"black","strokeWidth":2.5},
 "title":{"text":"C","anchor":"start","frame":"group","dx":-93,"offset":-44,"fontSize":36},
 "resolve":{"scale":{"x":"independent","y":"independent"}},
 "layer":[
  {"layer":[
   {"data":{"name":"c"},"transform":[{"aggregate":[{"op":"min","field":"v","as":"lo"},{"op":"max","field":"v","as":"hi"},{"op":"median","field":"v","as":"md"}],"groupby":["c"]}],
    "layer":[
     {"mark":{"type":"bar","fill":"white","strokeWidth":1.6,"cornerRadius":5,"width":{"band":0.62}},
      "encoding":{"x":{"field":"c","type":"nominal","title":null,"scale":{"domain":["Control","WT","Y101H","Y101F","Y101M","Y101N","Y101Q","Y101H/H279F","Y101H/F125Y","Y101N/H279F","Y101Q/F125Y","Y101H/H279F/F125Y","D126L","F278A"],"paddingInner":0,"paddingOuter":0.1}},
       "y":{"field":"lo","type":"quantitative","title":null,"scale":{"domain":[0,8],"nice":false},"axis":{"values":[0,2,4,6,8]}},
       "y2":{"field":"hi"},
       "stroke":{"field":"c","type":"nominal","legend":null,"scale":{"domain":["Control","WT","Y101H","Y101F","Y101M","Y101N","Y101Q","Y101H/H279F","Y101H/F125Y","Y101N/H279F","Y101Q/F125Y","Y101H/H279F/F125Y","D126L","F278A"],"range":["#1a1a1a","#9e1c1c","#3f7f2f","#4a8f3a","#2e6b2e","#4caf50","#e8661f","#2f5b7c","#4b2a7b","#2e2a8a","#3f51b5","#b0234f","#8c8c1e","#c5c51c"]}}}},
     {"mark":{"type":"tick","thickness":1.2,"size":12},
      "encoding":{"x":{"field":"c","type":"nominal"},"y":{"field":"md","type":"quantitative"},
       "color":{"field":"c","type":"nominal","legend":null,"scale":{"domain":["Control","WT","Y101H","Y101F","Y101M","Y101N","Y101Q","Y101H/H279F","Y101H/F125Y","Y101N/H279F","Y101Q/F125Y","Y101H/H279F/F125Y","D126L","F278A"],"range":["#1a1a1a","#9e1c1c","#3f7f2f","#4a8f3a","#2e6b2e","#4caf50","#e8661f","#2f5b7c","#4b2a7b","#2e2a8a","#3f51b5","#b0234f","#8c8c1e","#c5c51c"]}}}}]},
   {"data":{"name":"c"},"mark":{"type":"point","size":8,"strokeWidth":0.7,"color":"#555555"},"encoding":{"x":{"field":"c","type":"nominal"},"y":{"field":"v","type":"quantitative"}}},
   {"data":{"name":"cs"},"mark":{"type":"text","fontSize":11,"fontWeight":"bold"},"encoding":{"x":{"field":"c","type":"nominal"},"y":{"field":"y","type":"quantitative"},"text":{"field":"t"}}},
   {"data":{"name":"cb"},"mark":{"type":"rule","strokeWidth":2,"color":"black"},"encoding":{"x":{"field":"c1","type":"nominal"},"x2":{"field":"c2"},"y":{"field":"y","type":"quantitative"}}},
   {"data":{"name":"cb"},"mark":{"type":"rule","strokeWidth":2,"color":"black"},"encoding":{"x":{"field":"c1","type":"nominal"},"y":{"field":"y","type":"quantitative"},"y2":{"field":"y2"}}},
   {"data":{"name":"cb"},"mark":{"type":"rule","strokeWidth":2,"color":"black"},"encoding":{"x":{"field":"c2","type":"nominal"},"y":{"field":"y","type":"quantitative"},"y2":{"field":"y2"}}},
   {"data":{"name":"cb"},"transform":[{"filter":"datum.h==0"}],"mark":{"type":"text","fontSize":11,"fontWeight":"bold"},"encoding":{"x":{"field":"c","type":"nominal"},"y":{"field":"ty","type":"quantitative"},"text":{"field":"t"}}},
   {"data":{"name":"cb"},"transform":[{"filter":"datum.h==1"}],"mark":{"type":"text","fontSize":11,"fontWeight":"bold","dx":11.5},"encoding":{"x":{"field":"c","type":"nominal"},"y":{"field":"ty","type":"quantitative"},"text":{"field":"t"}}}]},
  {"data":{"values":[{"p":0},{"p":1}]},"mark":{"type":"point","opacity":0},
   "encoding":{"y":{"field":"p","type":"quantitative","scale":{"domain":[0,1],"range":[280.5,0]},"axis":{"orient":"left","offset":33,"labels":false,"ticks":false,"domainWidth":2,"title":null}}}}]},
{"width":192,"height":190,"view":{"stroke":"black","strokeWidth":2.5},
 "title":{"text":"D","anchor":"start","frame":"group","dx":-93,"offset":-44,"fontSize":36},
 "resolve":{"scale":{"x":"independent","y":"independent"}},
 "layer":[
  {"encoding":{"y":{"type":"quantitative","title":null,"scale":{"domain":[0,0.1],"nice":false},"axis":{"values":[0,0.02,0.04,0.06,0.08,0.1],"format":".2f","labelOverlap":false,"tickCount":6}}},
   "layer":[
   {"data":{"name":"dm"},"mark":{"type":"rule","strokeWidth":1.5,"opacity":0.6},"encoding":{"x":{"field":"c","type":"nominal","title":null,"scale":{"domain":["KYAT1 WT","Y101H","Y101H/H279F","Y101N/H279F","Y101Q/F125Y","D126L","F278A"],"paddingInner":0.35,"paddingOuter":0.3}},"y":{"field":"m","type":"quantitative","title":null,"axis":{"values":[0,0.02,0.04,0.06,0.08,0.1],"format":".2f","labelOverlap":false,"tickCount":6}},"y2":{"field":"hi"},"stroke":{"field":"c","type":"nominal","legend":null,"scale":{"domain":["KYAT1 WT","Y101H","Y101H/H279F","Y101N/H279F","Y101Q/F125Y","D126L","F278A"],"range":["#1a1a1a","#8b1a1a","#c0682a","#2b2a7a","#e0561b","#2f6b2a","#8c8c2a"]}}}},
   {"data":{"name":"dm"},"mark":{"type":"tick","thickness":1.5,"size":8,"opacity":0.6},"encoding":{"x":{"field":"c","type":"nominal"},"y":{"field":"hi","type":"quantitative","axis":{"values":[0,0.02,0.04,0.06,0.08,0.1],"format":".2f","labelOverlap":false,"tickCount":6}},"color":{"field":"c","type":"nominal","legend":null,"scale":{"domain":["KYAT1 WT","Y101H","Y101H/H279F","Y101N/H279F","Y101Q/F125Y","D126L","F278A"],"range":["#1a1a1a","#8b1a1a","#c0682a","#2b2a7a","#e0561b","#2f6b2a","#8c8c2a"]}}}},
   {"data":{"name":"dm"},"mark":{"type":"bar","fill":"white","strokeWidth":2.2},"encoding":{"x":{"field":"c","type":"nominal"},"y":{"field":"m","type":"quantitative","axis":{"values":[0,0.02,0.04,0.06,0.08,0.1],"format":".2f","labelOverlap":false,"tickCount":6}},"stroke":{"field":"c","type":"nominal","legend":null}}},
   {"data":{"name":"d"},"mark":{"type":"point","filled":true,"size":10,"opacity":0.9},"encoding":{"x":{"field":"c","type":"nominal"},"y":{"field":"v","type":"quantitative","axis":{"values":[0,0.02,0.04,0.06,0.08,0.1],"format":".2f","labelOverlap":false,"tickCount":6}},"fill":{"field":"c","type":"nominal","legend":null,"scale":{"domain":["KYAT1 WT","Y101H","Y101H/H279F","Y101N/H279F","Y101Q/F125Y","D126L","F278A"],"range":["#666666","#a03030","#c8783a","#3b3a8a","#e06a30","#3f7b3a","#8c8c3a"]}}}},
   {"data":{"name":"ds"},"mark":{"type":"text","fontSize":11,"fontWeight":"bold"},"encoding":{"x":{"field":"c","type":"nominal"},"y":{"field":"y","type":"quantitative","axis":{"values":[0,0.02,0.04,0.06,0.08,0.1],"format":".2f","labelOverlap":false,"tickCount":6}},"text":{"field":"t"}}},
   {"data":{"name":"db"},"mark":{"type":"rule","strokeWidth":1.5,"color":"#555555"},"encoding":{"x":{"field":"c1","type":"nominal"},"x2":{"field":"c2"},"y":{"field":"y","type":"quantitative","axis":{"values":[0,0.02,0.04,0.06,0.08,0.1],"format":".2f","labelOverlap":false,"tickCount":6}}}},
   {"data":{"name":"db"},"mark":{"type":"rule","strokeWidth":1.5,"color":"#555555"},"encoding":{"x":{"field":"c1","type":"nominal"},"y":{"field":"y","type":"quantitative","axis":{"values":[0,0.02,0.04,0.06,0.08,0.1],"format":".2f","labelOverlap":false,"tickCount":6}},"y2":{"field":"y2"}}},
   {"data":{"name":"db"},"mark":{"type":"rule","strokeWidth":1.5,"color":"#555555"},"encoding":{"x":{"field":"c2","type":"nominal"},"y":{"field":"y","type":"quantitative","axis":{"values":[0,0.02,0.04,0.06,0.08,0.1],"format":".2f","labelOverlap":false,"tickCount":6}},"y2":{"field":"y2"}}},
   {"data":{"name":"db"},"mark":{"type":"text","fontSize":11,"fontWeight":"bold","dx":13.25},"encoding":{"x":{"field":"c","type":"nominal"},"y":{"field":"ty","type":"quantitative","axis":{"values":[0,0.02,0.04,0.06,0.08,0.1],"format":".2f","labelOverlap":false,"tickCount":6}},"text":{"field":"t"}}}]},
  {"data":{"values":[{"p":0},{"p":1}]},"mark":{"type":"point","opacity":0},
   "encoding":{"y":{"field":"p","type":"quantitative","scale":{"domain":[0,1],"range":[280.5,0]},"axis":{"orient":"left","offset":44,"labels":false,"ticks":false,"domainWidth":2,"title":null}}}}]},
{"width":30,"height":190,"data":{"values":[{"n":"dL-Methionine"}]},
 "encoding":{"x":{"field":"n","type":"nominal","axis":null,"scale":{"range":[0,46],"paddingInner":0,"paddingOuter":0}},"y":{"field":"n","type":"nominal","axis":null,"scale":{"range":[-20,252],"paddingInner":0,"paddingOuter":0}}},
 "layer":[{"mark":{"type":"rect","fill":"white","stroke":"#ece64c","strokeWidth":2.5,"cornerRadius":16}},
  {"mark":{"type":"text","angle":270,"fontSize":19,"font":"DejaVu Sans Condensed, Liberation Sans Narrow, Liberation Sans"},"encoding":{"text":{"field":"n"}}}]},
{"width":325,"height":168,"view":{"stroke":"black","strokeWidth":2.5},
 "title":{"text":"E","anchor":"start","frame":"group","dx":-93,"offset":-44,"fontSize":36},
 "resolve":{"scale":{"x":"independent","y":"independent"}},
 "layer":[
  {"layer":[
   {"data":{"name":"e"},"transform":[{"aggregate":[{"op":"min","field":"v","as":"lo"},{"op":"max","field":"v","as":"hi"},{"op":"median","field":"v","as":"md"}],"groupby":["c"]}],
    "layer":[
     {"mark":{"type":"bar","fill":"white","strokeWidth":1.6,"cornerRadius":5,"width":{"band":0.62}},
      "encoding":{"x":{"field":"c","type":"nominal","title":null,"scale":{"domain":["Control","WT","Y101H","Y101F","Y101M","Y101N","Y101Q","Y101H/H279F","Y101H/F125Y","Y101N/H279F","Y101Q/F125Y","Y101H/H279F/F125Y","D126L","F278A"],"paddingInner":0,"paddingOuter":0.1}},
       "y":{"field":"lo","type":"quantitative","title":null,"scale":{"domain":[0,20],"nice":false},"axis":{"values":[0,5,10,15,20]}},
       "y2":{"field":"hi"},
       "stroke":{"field":"c","type":"nominal","legend":null,"scale":{"domain":["Control","WT","Y101H","Y101F","Y101M","Y101N","Y101Q","Y101H/H279F","Y101H/F125Y","Y101N/H279F","Y101Q/F125Y","Y101H/H279F/F125Y","D126L","F278A"],"range":["#1a1a1a","#9e1c1c","#3f7f2f","#4a8f3a","#2e6b2e","#4caf50","#e8661f","#2f5b7c","#4b2a7b","#2e2a8a","#3f51b5","#b0234f","#8c8c1e","#c5c51c"]}}}},
     {"mark":{"type":"tick","thickness":1.2,"size":12},
      "encoding":{"x":{"field":"c","type":"nominal"},"y":{"field":"md","type":"quantitative"},
       "color":{"field":"c","type":"nominal","legend":null,"scale":{"domain":["Control","WT","Y101H","Y101F","Y101M","Y101N","Y101Q","Y101H/H279F","Y101H/F125Y","Y101N/H279F","Y101Q/F125Y","Y101H/H279F/F125Y","D126L","F278A"],"range":["#1a1a1a","#9e1c1c","#3f7f2f","#4a8f3a","#2e6b2e","#4caf50","#e8661f","#2f5b7c","#4b2a7b","#2e2a8a","#3f51b5","#b0234f","#8c8c1e","#c5c51c"]}}}}]},
   {"data":{"name":"e"},"mark":{"type":"point","size":8,"strokeWidth":0.7,"color":"#555555"},"encoding":{"x":{"field":"c","type":"nominal"},"y":{"field":"v","type":"quantitative"}}},
   {"data":{"name":"es"},"mark":{"type":"text","fontSize":11,"fontWeight":"bold"},"encoding":{"x":{"field":"c","type":"nominal"},"y":{"field":"y","type":"quantitative"},"text":{"field":"t"}}},
   {"data":{"name":"eb"},"mark":{"type":"rule","strokeWidth":2,"color":"black"},"encoding":{"x":{"field":"c1","type":"nominal"},"x2":{"field":"c2"},"y":{"field":"y","type":"quantitative"}}},
   {"data":{"name":"eb"},"mark":{"type":"rule","strokeWidth":2,"color":"black"},"encoding":{"x":{"field":"c1","type":"nominal"},"y":{"field":"y","type":"quantitative"},"y2":{"field":"y2"}}},
   {"data":{"name":"eb"},"mark":{"type":"rule","strokeWidth":2,"color":"black"},"encoding":{"x":{"field":"c2","type":"nominal"},"y":{"field":"y","type":"quantitative"},"y2":{"field":"y2"}}},
   {"data":{"name":"eb"},"mark":{"type":"text","fontSize":11,"fontWeight":"bold"},"encoding":{"x":{"field":"c","type":"nominal"},"y":{"field":"ty","type":"quantitative"},"text":{"field":"t"}}}]},
  {"data":{"values":[{"p":0},{"p":1}]},"mark":{"type":"point","opacity":0},
   "encoding":{"y":{"field":"p","type":"quantitative","scale":{"domain":[0,1],"range":[280.5,0]},"axis":{"orient":"left","offset":33,"labels":false,"ticks":false,"domainWidth":2,"title":"nmol PPA consumed /min/mg of protein","titleFontSize":20,"titleFontWeight":"bold","titleAngle":270,"titleX":-6,"titleY":131,"titleAlign":"center","titleBaseline":"bottom"}}}}]},
{"width":192,"height":190,"view":{"stroke":"black","strokeWidth":2.5},
 "title":{"text":"F","anchor":"start","frame":"group","dx":-93,"offset":-44,"fontSize":36},
 "resolve":{"scale":{"x":"independent","y":"independent"}},
 "layer":[
  {"layer":[
   {"data":{"name":"fm"},"mark":{"type":"rule","strokeWidth":1.5,"opacity":0.6},"encoding":{"x":{"field":"c","type":"nominal","title":null,"scale":{"domain":["KYAT1 WT","Y101H","Y101H/H279F","Y101N/H279F","Y101Q/F125Y","D126L","F278A"],"paddingInner":0.35,"paddingOuter":0.3}},"y":{"field":"m","type":"quantitative","title":null,"scale":{"domain":[0,8],"nice":false},"axis":{"values":[0,2,4,6,8]}},"y2":{"field":"hi"},"stroke":{"field":"c","type":"nominal","legend":null,"scale":{"domain":["KYAT1 WT","Y101H","Y101H/H279F","Y101N/H279F","Y101Q/F125Y","D126L","F278A"],"range":["#1a1a1a","#8b1a1a","#c0682a","#2b2a7a","#e0561b","#2f6b2a","#8c8c2a"]}}}},
   {"data":{"name":"fm"},"mark":{"type":"tick","thickness":1.5,"size":8,"opacity":0.6},"encoding":{"x":{"field":"c","type":"nominal"},"y":{"field":"hi","type":"quantitative"},"color":{"field":"c","type":"nominal","legend":null,"scale":{"domain":["KYAT1 WT","Y101H","Y101H/H279F","Y101N/H279F","Y101Q/F125Y","D126L","F278A"],"range":["#1a1a1a","#8b1a1a","#c0682a","#2b2a7a","#e0561b","#2f6b2a","#8c8c2a"]}}}},
   {"data":{"name":"fm"},"mark":{"type":"bar","fill":"white","strokeWidth":2.2},"encoding":{"x":{"field":"c","type":"nominal"},"y":{"field":"m","type":"quantitative"},"stroke":{"field":"c","type":"nominal","legend":null}}},
   {"data":{"name":"f"},"mark":{"type":"point","filled":true,"size":10,"opacity":0.9},"encoding":{"x":{"field":"c","type":"nominal"},"y":{"field":"v","type":"quantitative"},"fill":{"field":"c","type":"nominal","legend":null,"scale":{"domain":["KYAT1 WT","Y101H","Y101H/H279F","Y101N/H279F","Y101Q/F125Y","D126L","F278A"],"range":["#666666","#a03030","#c8783a","#3b3a8a","#e06a30","#3f7b3a","#8c8c3a"]}}}},
   {"data":{"name":"fs"},"mark":{"type":"text","fontSize":11,"fontWeight":"bold"},"encoding":{"x":{"field":"c","type":"nominal"},"y":{"field":"y","type":"quantitative"},"text":{"field":"t"}}},
   {"data":{"name":"fb"},"mark":{"type":"rule","strokeWidth":1,"color":"#222222"},"encoding":{"x":{"field":"c1","type":"nominal"},"x2":{"field":"c2"},"y":{"field":"y","type":"quantitative"}}},
   {"data":{"name":"fb"},"mark":{"type":"rule","strokeWidth":1,"color":"#222222"},"encoding":{"x":{"field":"c1","type":"nominal"},"y":{"field":"y","type":"quantitative"},"y2":{"field":"y2"}}},
   {"data":{"name":"fb"},"mark":{"type":"rule","strokeWidth":1,"color":"#222222"},"encoding":{"x":{"field":"c2","type":"nominal"},"y":{"field":"y","type":"quantitative"},"y2":{"field":"y2"}}},
   {"data":{"name":"fb"},"mark":{"type":"text","fontSize":11,"fontWeight":"bold"},"encoding":{"x":{"field":"c","type":"nominal"},"y":{"field":"ty","type":"quantitative"},"text":{"field":"t"}}}]},
  {"data":{"values":[{"p":0},{"p":1}]},"mark":{"type":"point","opacity":0},
   "encoding":{"y":{"field":"p","type":"quantitative","scale":{"domain":[0,1],"range":[280.5,0]},"axis":{"orient":"left","offset":44,"labels":false,"ticks":false,"domainWidth":2,"title":"μmol PPA consumed /min/mg of protein","titleFontSize":20,"titleFontWeight":"bold","titleAngle":270,"titleX":-2,"titleY":65,"titleAlign":"center","titleBaseline":"bottom"}}}}]},
{"width":30,"height":190,"data":{"values":[{"n":"L-Leucine"}]},
 "encoding":{"x":{"field":"n","type":"nominal","axis":null,"scale":{"range":[0,46],"paddingInner":0,"paddingOuter":0}},"y":{"field":"n","type":"nominal","axis":null,"scale":{"range":[-20,252],"paddingInner":0,"paddingOuter":0}}},
 "layer":[{"mark":{"type":"rect","fill":"white","stroke":"#2d4a28","strokeWidth":2.5,"cornerRadius":16}},
  {"mark":{"type":"text","angle":270,"fontSize":19,"font":"DejaVu Sans Condensed, Liberation Sans Narrow, Liberation Sans"},"encoding":{"text":{"field":"n"}}}]},
{"width":325,"height":168,"view":{"stroke":"black","strokeWidth":2.5},
 "title":{"text":"G","anchor":"start","frame":"group","dx":-93,"offset":-44,"fontSize":36},
 "resolve":{"scale":{"x":"independent","y":"independent"}},
 "layer":[
  {"layer":[
   {"data":{"name":"g"},"transform":[{"aggregate":[{"op":"min","field":"v","as":"lo"},{"op":"max","field":"v","as":"hi"},{"op":"median","field":"v","as":"md"}],"groupby":["c"]}],
    "layer":[
     {"mark":{"type":"bar","fill":"white","strokeWidth":1.6,"cornerRadius":5,"width":{"band":0.62}},
      "encoding":{"x":{"field":"c","type":"nominal","title":null,"scale":{"domain":["Control","WT","Y101H","Y101F","Y101M","Y101N","Y101Q","Y101H/H279F","Y101H/F125Y","Y101N/H279F","Y101Q/F125Y","Y101H/H279F/F125Y","D126L","F278A"],"paddingInner":0,"paddingOuter":0.1}},
       "y":{"field":"lo","type":"quantitative","title":null,"scale":{"domain":[0,40],"nice":false},"axis":{"values":[0,10,20,30,40]}},
       "y2":{"field":"hi"},
       "stroke":{"field":"c","type":"nominal","legend":null,"scale":{"domain":["Control","WT","Y101H","Y101F","Y101M","Y101N","Y101Q","Y101H/H279F","Y101H/F125Y","Y101N/H279F","Y101Q/F125Y","Y101H/H279F/F125Y","D126L","F278A"],"range":["#1a1a1a","#9e1c1c","#3f7f2f","#4a8f3a","#2e6b2e","#4caf50","#e8661f","#2f5b7c","#4b2a7b","#2e2a8a","#3f51b5","#b0234f","#8c8c1e","#c5c51c"]}}}},
     {"mark":{"type":"tick","thickness":1.2,"size":12},
      "encoding":{"x":{"field":"c","type":"nominal"},"y":{"field":"md","type":"quantitative"},
       "color":{"field":"c","type":"nominal","legend":null,"scale":{"domain":["Control","WT","Y101H","Y101F","Y101M","Y101N","Y101Q","Y101H/H279F","Y101H/F125Y","Y101N/H279F","Y101Q/F125Y","Y101H/H279F/F125Y","D126L","F278A"],"range":["#1a1a1a","#9e1c1c","#3f7f2f","#4a8f3a","#2e6b2e","#4caf50","#e8661f","#2f5b7c","#4b2a7b","#2e2a8a","#3f51b5","#b0234f","#8c8c1e","#c5c51c"]}}}}]},
   {"data":{"name":"g"},"mark":{"type":"point","size":8,"strokeWidth":0.7,"color":"#555555"},"encoding":{"x":{"field":"c","type":"nominal"},"y":{"field":"v","type":"quantitative"}}},
   {"data":{"name":"gs"},"mark":{"type":"text","fontSize":11,"fontWeight":"bold"},"encoding":{"x":{"field":"c","type":"nominal"},"y":{"field":"y","type":"quantitative"},"text":{"field":"t"}}},
   {"data":{"name":"gb"},"mark":{"type":"rule","strokeWidth":2,"color":"black"},"encoding":{"x":{"field":"c1","type":"nominal"},"x2":{"field":"c2"},"y":{"field":"y","type":"quantitative"}}},
   {"data":{"name":"gb"},"mark":{"type":"rule","strokeWidth":2,"color":"black"},"encoding":{"x":{"field":"c1","type":"nominal"},"y":{"field":"y","type":"quantitative"},"y2":{"field":"y2"}}},
   {"data":{"name":"gb"},"mark":{"type":"rule","strokeWidth":2,"color":"black"},"encoding":{"x":{"field":"c2","type":"nominal"},"y":{"field":"y","type":"quantitative"},"y2":{"field":"y2"}}},
   {"data":{"name":"gb"},"transform":[{"filter":"datum.h==0"}],"mark":{"type":"text","fontSize":11,"fontWeight":"bold"},"encoding":{"x":{"field":"c","type":"nominal"},"y":{"field":"ty","type":"quantitative"},"text":{"field":"t"}}},
   {"data":{"name":"gb"},"transform":[{"filter":"datum.h==1"}],"mark":{"type":"text","fontSize":11,"fontWeight":"bold","dx":11.5},"encoding":{"x":{"field":"c","type":"nominal"},"y":{"field":"ty","type":"quantitative"},"text":{"field":"t"}}}]},
  {"data":{"values":[{"p":0},{"p":1}]},"mark":{"type":"point","opacity":0},
   "encoding":{"y":{"field":"p","type":"quantitative","scale":{"domain":[0,1],"range":[280.5,0]},"axis":{"orient":"left","offset":33,"labels":false,"ticks":false,"domainWidth":2,"title":null}}}}]},
{"width":192,"height":190,"view":{"stroke":"black","strokeWidth":2.5},
 "title":{"text":"H","anchor":"start","frame":"group","dx":-93,"offset":-44,"fontSize":36},
 "resolve":{"scale":{"x":"independent","y":"independent"}},
 "layer":[
  {"layer":[
   {"data":{"name":"hm"},"mark":{"type":"rule","strokeWidth":1.5,"opacity":0.6},"encoding":{"x":{"field":"c","type":"nominal","title":null,"scale":{"domain":["KYAT1 WT","Y101H","Y101H/H279F","Y101N/H279F","Y101Q/F125Y","D126L","F278A"],"paddingInner":0.35,"paddingOuter":0.3}},"y":{"field":"m","type":"quantitative","title":null,"scale":{"domain":[0,3],"nice":false},"axis":{"values":[0,1,2,3],"format":"d"}},"y2":{"field":"hi"},"stroke":{"field":"c","type":"nominal","legend":null,"scale":{"domain":["KYAT1 WT","Y101H","Y101H/H279F","Y101N/H279F","Y101Q/F125Y","D126L","F278A"],"range":["#1a1a1a","#8b1a1a","#c0682a","#2b2a7a","#e0561b","#2f6b2a","#8c8c2a"]}}}},
   {"data":{"name":"hm"},"mark":{"type":"tick","thickness":1.5,"size":8,"opacity":0.6},"encoding":{"x":{"field":"c","type":"nominal"},"y":{"field":"hi","type":"quantitative"},"color":{"field":"c","type":"nominal","legend":null,"scale":{"domain":["KYAT1 WT","Y101H","Y101H/H279F","Y101N/H279F","Y101Q/F125Y","D126L","F278A"],"range":["#1a1a1a","#8b1a1a","#c0682a","#2b2a7a","#e0561b","#2f6b2a","#8c8c2a"]}}}},
   {"data":{"name":"hm"},"mark":{"type":"bar","fill":"white","strokeWidth":2.2},"encoding":{"x":{"field":"c","type":"nominal"},"y":{"field":"m","type":"quantitative"},"stroke":{"field":"c","type":"nominal","legend":null}}},
   {"data":{"name":"h"},"mark":{"type":"point","filled":true,"size":10,"opacity":0.9},"encoding":{"x":{"field":"c","type":"nominal"},"y":{"field":"v","type":"quantitative"},"fill":{"field":"c","type":"nominal","legend":null,"scale":{"domain":["KYAT1 WT","Y101H","Y101H/H279F","Y101N/H279F","Y101Q/F125Y","D126L","F278A"],"range":["#666666","#a03030","#c8783a","#3b3a8a","#e06a30","#3f7b3a","#8c8c3a"]}}}},
   {"data":{"name":"hs"},"mark":{"type":"text","fontSize":13,"fontWeight":"bold"},"encoding":{"x":{"field":"c","type":"nominal"},"y":{"field":"y","type":"quantitative"},"text":{"field":"t"}}},
   {"data":{"name":"hb"},"mark":{"type":"rule","strokeWidth":1,"color":"#222222"},"encoding":{"x":{"field":"c1","type":"nominal"},"x2":{"field":"c2"},"y":{"field":"y","type":"quantitative"}}},
   {"data":{"name":"hb"},"mark":{"type":"rule","strokeWidth":1,"color":"#222222"},"encoding":{"x":{"field":"c1","type":"nominal"},"y":{"field":"y","type":"quantitative"},"y2":{"field":"y2"}}},
   {"data":{"name":"hb"},"mark":{"type":"rule","strokeWidth":1,"color":"#222222"},"encoding":{"x":{"field":"c2","type":"nominal"},"y":{"field":"y","type":"quantitative"},"y2":{"field":"y2"}}},
   {"data":{"name":"hb"},"mark":{"type":"text","fontSize":11,"fontWeight":"bold","fontStyle":"italic"},"encoding":{"x":{"field":"c","type":"nominal"},"y":{"field":"ty","type":"quantitative"},"text":{"field":"t"}}}]},
  {"data":{"values":[{"p":0},{"p":1}]},"mark":{"type":"point","opacity":0},
   "encoding":{"y":{"field":"p","type":"quantitative","scale":{"domain":[0,1],"range":[280.5,0]},"axis":{"orient":"left","offset":44,"labels":false,"ticks":false,"domainWidth":2,"title":null}}}}]},
{"width":30,"height":190,"data":{"values":[{"n":"L-Proline"}]},
 "encoding":{"x":{"field":"n","type":"nominal","axis":null,"scale":{"range":[0,46],"paddingInner":0,"paddingOuter":0}},"y":{"field":"n","type":"nominal","axis":null,"scale":{"range":[-20,252],"paddingInner":0,"paddingOuter":0}}},
 "layer":[{"mark":{"type":"rect","fill":"white","stroke":"#b063a8","strokeWidth":2.5,"cornerRadius":16}},
  {"mark":{"type":"text","angle":270,"fontSize":19,"font":"DejaVu Sans Condensed, Liberation Sans Narrow, Liberation Sans"},"encoding":{"text":{"field":"n"}}}]},
{"width":325,"height":168,"view":{"stroke":"black","strokeWidth":2.5},
 "title":{"text":"I","anchor":"start","frame":"group","dx":-93,"offset":-44,"fontSize":36},
 "resolve":{"scale":{"x":"independent","y":"independent"}},
 "layer":[
  {"layer":[
   {"data":{"name":"i"},"transform":[{"aggregate":[{"op":"min","field":"v","as":"lo"},{"op":"max","field":"v","as":"hi"},{"op":"median","field":"v","as":"md"}],"groupby":["c"]}],
    "layer":[
     {"mark":{"type":"bar","fill":"white","strokeWidth":1.6,"cornerRadius":5,"width":{"band":0.62}},
      "encoding":{"x":{"field":"c","type":"nominal","title":null,"scale":{"domain":["Control","WT","Y101H","Y101F","Y101M","Y101N","Y101Q","Y101H/H279F","Y101H/F125Y","Y101N/H279F","Y101Q/F125Y","Y101H/H279F/F125Y","D126L","F278A"],"paddingInner":0,"paddingOuter":0.1}},
       "y":{"field":"lo","type":"quantitative","title":null,"scale":{"domain":[0,8],"nice":false},"axis":{"values":[0,2,4,6,8]}},
       "y2":{"field":"hi"},
       "stroke":{"field":"c","type":"nominal","legend":null,"scale":{"domain":["Control","WT","Y101H","Y101F","Y101M","Y101N","Y101Q","Y101H/H279F","Y101H/F125Y","Y101N/H279F","Y101Q/F125Y","Y101H/H279F/F125Y","D126L","F278A"],"range":["#1a1a1a","#9e1c1c","#3f7f2f","#4a8f3a","#2e6b2e","#4caf50","#e8661f","#2f5b7c","#4b2a7b","#2e2a8a","#3f51b5","#b0234f","#8c8c1e","#c5c51c"]}}}},
     {"mark":{"type":"tick","thickness":1.2,"size":12},
      "encoding":{"x":{"field":"c","type":"nominal"},"y":{"field":"md","type":"quantitative"},
       "color":{"field":"c","type":"nominal","legend":null,"scale":{"domain":["Control","WT","Y101H","Y101F","Y101M","Y101N","Y101Q","Y101H/H279F","Y101H/F125Y","Y101N/H279F","Y101Q/F125Y","Y101H/H279F/F125Y","D126L","F278A"],"range":["#1a1a1a","#9e1c1c","#3f7f2f","#4a8f3a","#2e6b2e","#4caf50","#e8661f","#2f5b7c","#4b2a7b","#2e2a8a","#3f51b5","#b0234f","#8c8c1e","#c5c51c"]}}}}]},
   {"data":{"name":"i"},"mark":{"type":"point","size":8,"strokeWidth":0.7,"color":"#555555"},"encoding":{"x":{"field":"c","type":"nominal"},"y":{"field":"v","type":"quantitative"}}},
   {"data":{"name":"is"},"mark":{"type":"text","fontSize":11,"fontWeight":"bold"},"encoding":{"x":{"field":"c","type":"nominal"},"y":{"field":"y","type":"quantitative"},"text":{"field":"t"}}},
   {"data":{"name":"ib"},"mark":{"type":"rule","strokeWidth":2,"color":"black"},"encoding":{"x":{"field":"c1","type":"nominal"},"x2":{"field":"c2"},"y":{"field":"y","type":"quantitative"}}},
   {"data":{"name":"ib"},"mark":{"type":"rule","strokeWidth":2,"color":"black"},"encoding":{"x":{"field":"c1","type":"nominal"},"y":{"field":"y","type":"quantitative"},"y2":{"field":"y2"}}},
   {"data":{"name":"ib"},"mark":{"type":"rule","strokeWidth":2,"color":"black"},"encoding":{"x":{"field":"c2","type":"nominal"},"y":{"field":"y","type":"quantitative"},"y2":{"field":"y2"}}},
   {"data":{"name":"ib"},"transform":[{"filter":"datum.h==0"}],"mark":{"type":"text","fontSize":11,"fontWeight":"bold"},"encoding":{"x":{"field":"c","type":"nominal"},"y":{"field":"ty","type":"quantitative"},"text":{"field":"t"}}},
   {"data":{"name":"ib"},"transform":[{"filter":"datum.h==1"}],"mark":{"type":"text","fontSize":11,"fontWeight":"bold","dx":11.5},"encoding":{"x":{"field":"c","type":"nominal"},"y":{"field":"ty","type":"quantitative"},"text":{"field":"t"}}}]},
  {"data":{"values":[{"p":0},{"p":1}]},"mark":{"type":"point","opacity":0},
   "encoding":{"y":{"field":"p","type":"quantitative","scale":{"domain":[0,1],"range":[186,0]},"axis":{"orient":"left","offset":33,"labels":false,"ticks":false,"domainWidth":2,"title":"▼","titleFont":"DejaVu Sans","titleFontSize":24,"titleFontWeight":"normal","titleAngle":0,"titleX":0,"titleY":186,"titleAlign":"center","titleBaseline":"middle"}}}}]},
{"width":192,"height":190,"view":{"stroke":"black","strokeWidth":2.5},
 "title":{"text":"J","anchor":"start","frame":"group","dx":-93,"offset":-44,"fontSize":36},
 "resolve":{"scale":{"x":"independent","y":"independent"}},
 "layer":[
  {"layer":[
   {"data":{"name":"jm"},"mark":{"type":"rule","strokeWidth":1.5,"opacity":0.6},"encoding":{"x":{"field":"c","type":"nominal","title":null,"scale":{"domain":["KYAT1 WT","Y101H","Y101H/H279F","Y101N/H279F","Y101Q/F125Y","D126L","F278A"],"paddingInner":0.35,"paddingOuter":0.3}},"y":{"field":"m","type":"quantitative","title":null,"scale":{"domain":[0,0.6],"nice":false},"axis":{"values":[0,0.2,0.4,0.6],"format":".1f"}},"y2":{"field":"hi"},"stroke":{"field":"c","type":"nominal","legend":null,"scale":{"domain":["KYAT1 WT","Y101H","Y101H/H279F","Y101N/H279F","Y101Q/F125Y","D126L","F278A"],"range":["#1a1a1a","#8b1a1a","#c0682a","#2b2a7a","#e0561b","#2f6b2a","#8c8c2a"]}}}},
   {"data":{"name":"jm"},"mark":{"type":"tick","thickness":1.5,"size":8,"opacity":0.6},"encoding":{"x":{"field":"c","type":"nominal"},"y":{"field":"hi","type":"quantitative"},"color":{"field":"c","type":"nominal","legend":null,"scale":{"domain":["KYAT1 WT","Y101H","Y101H/H279F","Y101N/H279F","Y101Q/F125Y","D126L","F278A"],"range":["#1a1a1a","#8b1a1a","#c0682a","#2b2a7a","#e0561b","#2f6b2a","#8c8c2a"]}}}},
   {"data":{"name":"jm"},"mark":{"type":"bar","fill":"white","strokeWidth":2.2},"encoding":{"x":{"field":"c","type":"nominal"},"y":{"field":"m","type":"quantitative"},"stroke":{"field":"c","type":"nominal","legend":null}}},
   {"data":{"name":"j"},"mark":{"type":"point","filled":true,"size":10,"opacity":0.9},"encoding":{"x":{"field":"c","type":"nominal"},"y":{"field":"v","type":"quantitative"},"fill":{"field":"c","type":"nominal","legend":null,"scale":{"domain":["KYAT1 WT","Y101H","Y101H/H279F","Y101N/H279F","Y101Q/F125Y","D126L","F278A"],"range":["#666666","#a03030","#c8783a","#3b3a8a","#e06a30","#3f7b3a","#8c8c3a"]}}}},
   {"data":{"name":"js"},"mark":{"type":"text","fontSize":11,"fontWeight":"bold"},"encoding":{"x":{"field":"c","type":"nominal"},"y":{"field":"y","type":"quantitative"},"text":{"field":"t"}}},
   {"data":{"name":"jb"},"mark":{"type":"rule","strokeWidth":1,"color":"#222222"},"encoding":{"x":{"field":"c1","type":"nominal"},"x2":{"field":"c2"},"y":{"field":"y","type":"quantitative"}}},
   {"data":{"name":"jb"},"mark":{"type":"rule","strokeWidth":1,"color":"#222222"},"encoding":{"x":{"field":"c1","type":"nominal"},"y":{"field":"y","type":"quantitative"},"y2":{"field":"y2"}}},
   {"data":{"name":"jb"},"mark":{"type":"rule","strokeWidth":1,"color":"#222222"},"encoding":{"x":{"field":"c2","type":"nominal"},"y":{"field":"y","type":"quantitative"},"y2":{"field":"y2"}}},
   {"data":{"name":"jb"},"transform":[{"filter":"datum.h==0"}],"mark":{"type":"text","fontSize":11,"fontWeight":"bold"},"encoding":{"x":{"field":"c","type":"nominal"},"y":{"field":"ty","type":"quantitative"},"text":{"field":"t"}}},
   {"data":{"name":"jb"},"transform":[{"filter":"datum.h==1"}],"mark":{"type":"text","fontSize":11,"fontWeight":"bold","dx":13.25},"encoding":{"x":{"field":"c","type":"nominal"},"y":{"field":"ty","type":"quantitative"},"text":{"field":"t"}}}]},
  {"data":{"values":[{"p":0},{"p":1}]},"mark":{"type":"point","opacity":0},
   "encoding":{"y":{"field":"p","type":"quantitative","scale":{"domain":[0,1],"range":[186,0]},"axis":{"orient":"left","offset":44,"labels":false,"ticks":false,"domainWidth":2,"title":"▼","titleFont":"DejaVu Sans","titleFontSize":24,"titleFontWeight":"normal","titleAngle":0,"titleX":0,"titleY":186,"titleAlign":"center","titleBaseline":"middle"}}}}]}
]
}
